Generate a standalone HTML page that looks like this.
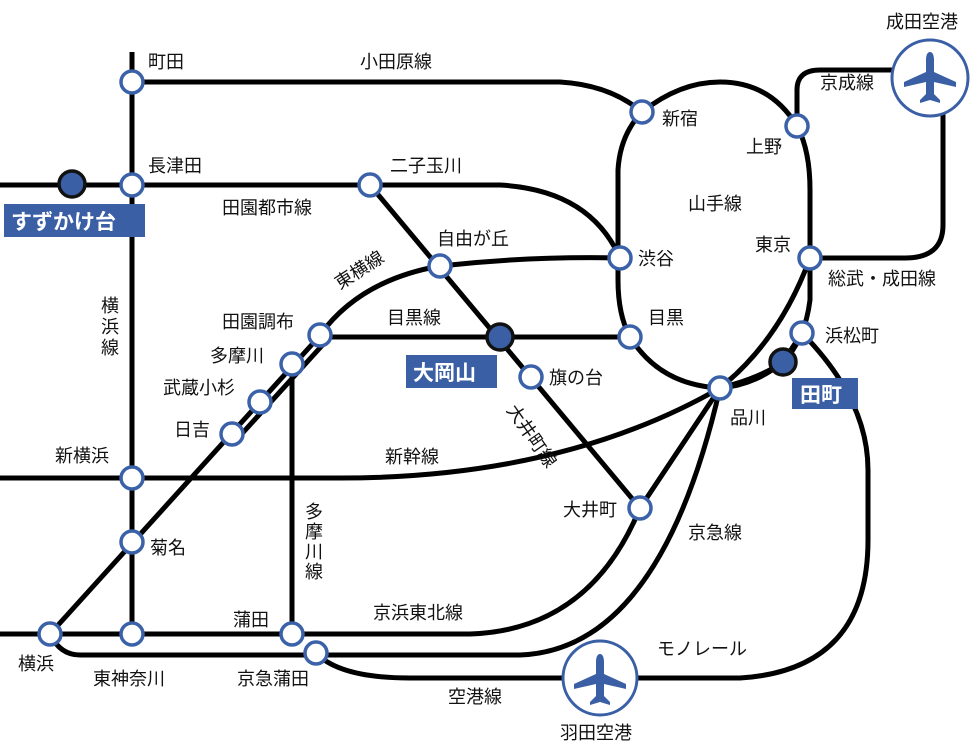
<!DOCTYPE html>
<html><head><meta charset="utf-8"><style>
html,body{margin:0;padding:0;background:#fff;}
svg{display:block;}
text{font-family:"Liberation Sans","Noto Sans CJK JP",sans-serif;font-size:18px;fill:#111;}
.b{font-weight:bold;fill:#fff;font-size:21px;}
</style></head><body>
<svg width="971" height="751" viewBox="0 0 971 751" xmlns="http://www.w3.org/2000/svg">
<defs>
<g id="plane"><path d="M0,-26 C3,-26 4,-22 4,-18 L4,-6 L26,4 L26,9 L4,4 L4,16 L10,22 L10,25 L0,22 L-10,25 L-10,22 L-4,16 L-4,4 L-26,9 L-26,4 L-4,-6 L-4,-18 C-4,-22 -3,-26 0,-26Z" fill="#3a5fa5"/></g>
</defs>
<g fill="none" stroke="#000" stroke-width="5">
<path d="M132,52 V634"/>
<path d="M132,82 H560 Q610,85 642,112"/>
<path d="M0,185 H500 Q590,190 620,258"/>
<path d="M642,112 Q680,82 720,82 Q770,82 797,126 Q810,150 810,190 V300 Q805,340 783,362 Q755,385 720,388 Q660,385 630,337 Q618,315 618,280 V170 Q620,135 642,112"/>
<path d="M797,126 V90 Q797,70 820,70 H925"/>
<path d="M943,100 V225 Q943,258 905,258 H810"/>
<path d="M810,258 Q780,340 720,388"/>
<path d="M370,185 L640,508"/>
<path d="M440,266 Q530,256 620,258"/>
<path d="M320,335 Q360,280 440,266"/>
<path d="M50,634 L316,340"/>
<path d="M238,438 L328,339"/>
<path d="M320,337 H630"/>
<path d="M292,365 V634"/>
<path d="M0,478 H330 Q560,480 720,388"/>
<path d="M0,634 H470 Q590,630 640,508 L720,388"/>
<path d="M50,634 Q60,655 80,655 H520 Q660,650 720,388"/>
<path d="M316,653 Q340,678 410,678 H565"/>
<path d="M637,678 H740 Q868,670 868,540 V470 Q868,400 802,333"/>
<path d="M720,388 Q760,378 783,362 L802,333"/>
</g>
<circle cx="930" cy="78" r="38" fill="#fff" stroke="#3a5fa5" stroke-width="3"/>
<use href="#plane" x="930" y="78"/>
<circle cx="600" cy="678" r="37" fill="#fff" stroke="#3a5fa5" stroke-width="3"/>
<use href="#plane" x="600" y="680"/>
<g fill="#fff" stroke="#3b62a8" stroke-width="3.5">
<circle cx="132" cy="82" r="11"/><circle cx="132" cy="185" r="11"/>
<circle cx="132" cy="478" r="11"/><circle cx="132" cy="542" r="11"/>
<circle cx="132" cy="634" r="11"/><circle cx="50" cy="634" r="11"/>
<circle cx="370" cy="185" r="11"/><circle cx="440" cy="266" r="11"/>
<circle cx="320" cy="335" r="11"/><circle cx="292" cy="364" r="11"/>
<circle cx="260" cy="402" r="11"/><circle cx="232" cy="434" r="11"/>
<circle cx="531" cy="377" r="11"/><circle cx="640" cy="508" r="11"/>
<circle cx="292" cy="634" r="11"/><circle cx="316" cy="653" r="11"/>
<circle cx="642" cy="112" r="11"/><circle cx="620" cy="258" r="11"/>
<circle cx="630" cy="337" r="11"/><circle cx="720" cy="388" r="11"/>
<circle cx="802" cy="333" r="11"/><circle cx="810" cy="258" r="11"/>
<circle cx="797" cy="126" r="11"/>
</g>
<g fill="#3a5fa5" stroke="#111" stroke-width="3.5">
<circle cx="72" cy="184" r="13"/><circle cx="500" cy="337" r="13"/><circle cx="783" cy="362" r="13"/>
</g>
<rect x="4" y="204" width="141" height="33" fill="#3a5fa5"/>
<text class="b" x="11" y="229">すずかけ台</text>
<rect x="406" y="355" width="91" height="33" fill="#3a5fa5"/>
<text class="b" x="413" y="380">大岡山</text>
<rect x="792" y="378" width="66" height="31" fill="#3a5fa5"/>
<text class="b" x="800" y="402">田町</text>
<text x="148" y="68">町田</text>
<text x="360" y="68">小田原線</text>
<text x="148" y="172">長津田</text>
<text x="222" y="214">田園都市線</text>
<text x="390" y="172">二子玉川</text>
<text x="101" y="312">横</text><text x="101" y="333">浜</text><text x="101" y="354">線</text>
<text x="437" y="245">自由が丘</text>
<text x="340" y="290" transform="rotate(-33 340 290)">東横線</text>
<text x="222" y="328">田園調布</text>
<text x="387" y="324">目黒線</text>
<text x="210" y="362">多摩川</text>
<text x="163" y="394">武蔵小杉</text>
<text x="174" y="436">日吉</text>
<text x="549" y="384">旗の台</text>
<text x="506" y="410" transform="rotate(55 506 410)">大井町線</text>
<text x="385" y="463">新幹線</text>
<text x="55" y="462">新横浜</text>
<text x="150" y="554">菊名</text>
<text x="305" y="518">多</text><text x="305" y="538">摩</text><text x="305" y="558">川</text><text x="305" y="578">線</text>
<text x="233" y="626">蒲田</text>
<text x="373" y="619">京浜東北線</text>
<text x="563" y="516">大井町</text>
<text x="688" y="539">京急線</text>
<text x="18" y="670">横浜</text>
<text x="93" y="685">東神奈川</text>
<text x="237" y="685">京急蒲田</text>
<text x="448" y="703">空港線</text>
<text x="560" y="739">羽田空港</text>
<text x="657" y="655">モノレール</text>
<text x="730" y="424">品川</text>
<text x="825" y="342">浜松町</text>
<text x="828" y="285">総武・成田線</text>
<text x="755" y="251">東京</text>
<text x="688" y="210">山手線</text>
<text x="746" y="153">上野</text>
<text x="662" y="125">新宿</text>
<text x="638" y="265">渋谷</text>
<text x="648" y="324">目黒</text>
<text x="820" y="89">京成線</text>
<text x="886" y="28">成田空港</text>
</svg>
</body></html>
